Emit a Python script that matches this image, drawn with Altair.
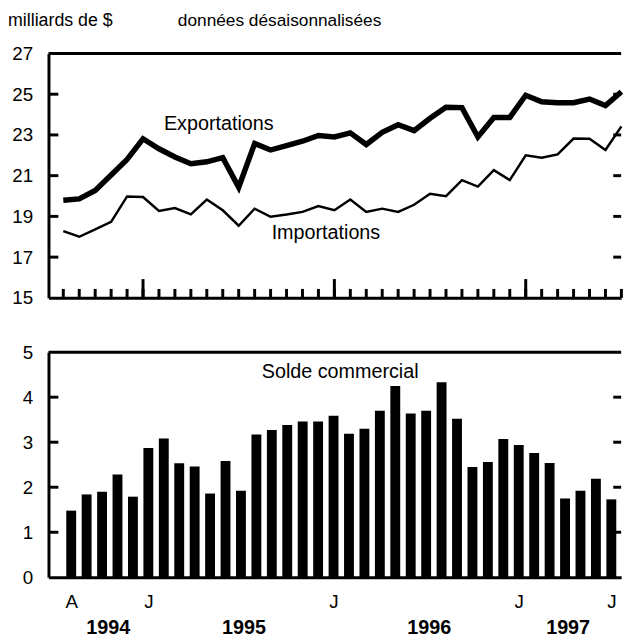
import altair as alt
import pandas as pd

# ---------------- data ----------------
all_months = [f"{y}-{m:02d}" for y in range(1994, 1998) for m in range(1, 13)]
months = all_months[all_months.index("1994-08"):all_months.index("1997-07") + 1]
month_letters = ["J", "F", "M", "A", "M", "J", "J", "A", "S", "O", "N", "D"]

exports = [19.79, 19.86, 20.27, 21.03, 21.80, 22.81, 22.32, 21.92, 21.59, 21.68,
           21.88, 20.43, 22.58, 22.26, 22.48, 22.69, 22.97, 22.90, 23.10, 22.53,
           23.13, 23.50, 23.21, 23.82, 24.36, 24.34, 22.90, 23.86, 23.86, 24.95,
           24.63, 24.58, 24.58, 24.76, 24.44, 25.12]
imports = [18.28, 18.00, 18.36, 18.73, 19.98, 19.95, 19.27, 19.41, 19.10, 19.83,
           19.30, 18.54, 19.38, 18.98, 19.09, 19.22, 19.51, 19.30, 19.83, 19.22,
           19.38, 19.22, 19.57, 20.11, 19.99, 20.78, 20.46, 21.27, 20.78, 22.00,
           21.88, 22.04, 22.82, 22.81, 22.26, 23.42]
balance = [1.48, 1.84, 1.90, 2.28, 1.79, 2.87, 3.08, 2.53, 2.46, 1.86,
           2.58, 1.92, 3.17, 3.27, 3.38, 3.46, 3.46, 3.59, 3.19, 3.30,
           3.70, 4.25, 3.64, 3.70, 4.33, 3.52, 2.45, 2.56, 3.07, 2.94,
           2.76, 2.54, 1.75, 1.92, 2.19, 1.73]

top_y_labels = [15, 17, 19, 21, 23, 25, 27]
bot_y_labels = [0, 1, 2, 3, 4, 5]
x_label_idx = [0, 5, 17, 29, 35]
years = ["1994", "1995", "1996", "1997"]
year_anchor = [2.4, 11.2, 23.2, 32.2]   # month index under which each year label sits

header_left = "milliards de $"
header_mid = "données désaisonnalisées"
label_exp = "Exportations"
label_imp = "Importations"
label_bal = "Solde commercial"

# ---------------- frames ----------------
n = len(months)
df = pd.DataFrame({"i": range(n), "month": months,
                   "Exportations": exports, "Importations": imports, "bal": balance})
major_idx = [k for k, m in enumerate(months) if m.endswith("-01")]
df_ticks_minor = pd.DataFrame({"i": range(n)})
df_ticks_major = pd.DataFrame({"i": major_idx})
df_ytop = pd.DataFrame({"v": top_y_labels[1:-1]})
df_ybot = pd.DataFrame({"v": bot_y_labels[1:-1]})
df_years = pd.DataFrame({"i": year_anchor, "t": years})

lbl_map = {k: month_letters[int(months[k][5:]) - 1] for k in x_label_idx}
label_expr = "''"
for k, t in lbl_map.items():
    label_expr = f"datum.value == {k} ? '{t}' : ({label_expr})"

W = 580
H1, H2 = 247.5, 228
FONT = "Liberation Sans"
one = alt.Data(values=[{}])

# ---------------- top panel ----------------
xs1 = alt.Scale(domain=[-0.929, -0.929 + W / 16.15], nice=False, zero=False, padding=0)
ys1 = alt.Scale(domain=[15, 27], nice=False, zero=False)
ax_x1 = alt.Axis(title=None, labels=False, ticks=False, tickSize=0, domain=True, grid=False)
ax_y1 = alt.Axis(title=None, values=top_y_labels, ticks=False, tickSize=0, labelPadding=16,
                 grid=False, domain=True)

X1 = lambda f: alt.X(f, scale=xs1, axis=ax_x1, title=None)
Y1 = lambda f: alt.Y(f, scale=ys1, axis=ax_y1, title=None)

lines = alt.Chart(df).transform_fold(["Exportations", "Importations"], as_=["serie", "val"]).mark_line(color="black").encode(
    x=X1("i:Q"),
    y=Y1("val:Q"),
    strokeWidth=alt.StrokeWidth("serie:N", scale=alt.Scale(domain=["Exportations", "Importations"], range=[5.5, 2.5]), legend=None),
    detail="serie:N",
)

tmin = alt.Chart(df_ticks_minor).mark_rule(color="black", strokeWidth=3).encode(
    x=X1("i:Q"), y=alt.value(H1), y2=alt.value(H1 - 9))
tmaj = alt.Chart(df_ticks_major).mark_rule(color="black", strokeWidth=3).encode(
    x=X1("i:Q"), y=alt.value(H1), y2=alt.value(H1 - 19))
yl1 = alt.Chart(df_ytop).mark_rule(color="black", strokeWidth=3).encode(
    y=Y1("v:Q"), x=alt.value(0), x2=alt.value(10))
yr1 = alt.Chart(df_ytop).mark_rule(color="black", strokeWidth=3).encode(
    y=Y1("v:Q"), x=alt.value(W - 8), x2=alt.value(W))
top1 = alt.Chart(one).mark_rule(color="black", strokeWidth=3).encode(
    x=alt.value(0), x2=alt.value(W), y=alt.value(0))

txt_exp = alt.Chart(pd.DataFrame({"i": [9.75], "v": [23.24], "t": [label_exp]})).mark_text(
    font=FONT, fontSize=20, align="center", baseline="alphabetic", color="black").encode(
    x=X1("i:Q"), y=Y1("v:Q"), text="t:N")
txt_imp = alt.Chart(pd.DataFrame({"i": [16.47], "v": [17.91], "t": [label_imp]})).mark_text(
    font=FONT, fontSize=20, align="center", baseline="alphabetic", color="black").encode(
    x=X1("i:Q"), y=Y1("v:Q"), text="t:N")

hdr1 = alt.Chart(one).mark_text(text=header_left, font=FONT, fontSize=18, align="left",
                                baseline="alphabetic", color="black").encode(x=alt.value(-41), y=alt.value(-27.5))
hdr2 = alt.Chart(one).mark_text(text=header_mid, font=FONT, fontSize=17.5, align="left",
                                baseline="alphabetic", color="black").encode(x=alt.value(131), y=alt.value(-27.5))

top = alt.layer(lines, tmin, tmaj, yl1, yr1, top1, txt_exp, txt_imp, hdr1, hdr2).properties(width=W, height=H1)

# ---------------- bottom panel ----------------
xs2 = alt.Scale(domain=[-1.472, -1.472 + W / 15.63], nice=False, zero=False, padding=0)
ys2 = alt.Scale(domain=[0, 5], nice=False, zero=False)
ax_x2 = alt.Axis(title=None, values=x_label_idx, labelExpr=label_expr, ticks=False, tickSize=0,
                 labelPadding=16, grid=False, domain=True, labelFontSize=19)
ax_y2 = alt.Axis(title=None, values=bot_y_labels, ticks=False, tickSize=0, labelPadding=16,
                 grid=False, domain=True)
X2 = lambda f: alt.X(f, scale=xs2, axis=ax_x2, title=None)
Y2 = lambda f: alt.Y(f, scale=ys2, axis=ax_y2, title=None)

bars = alt.Chart(df).mark_bar(color="black", size=10).encode(x=X2("i:Q"), y=Y2("bal:Q"))
yl2 = alt.Chart(df_ybot).mark_rule(color="black", strokeWidth=3).encode(
    y=Y2("v:Q"), x=alt.value(0), x2=alt.value(10))
yr2 = alt.Chart(df_ybot).mark_rule(color="black", strokeWidth=3).encode(
    y=Y2("v:Q"), x=alt.value(W - 8), x2=alt.value(W))
top2 = alt.Chart(one).mark_rule(color="black", strokeWidth=3).encode(
    x=alt.value(0), x2=alt.value(W), y=alt.value(0))
txt_bal = alt.Chart(pd.DataFrame({"i": [17.43], "v": [4.43], "t": [label_bal]})).mark_text(
    font=FONT, fontSize=20, align="center", baseline="alphabetic", color="black").encode(
    x=X2("i:Q"), y=Y2("v:Q"), text="t:N")
yrs = alt.Chart(df_years).mark_text(font=FONT, fontSize=20, fontWeight="bold", align="center",
                                    baseline="alphabetic", color="black").encode(
    x=X2("i:Q"), y=alt.value(285), text="t:N")

bottom = alt.layer(bars, yl2, yr2, top2, txt_bal, yrs).properties(width=W, height=H2)

chart = alt.vconcat(top, bottom, spacing=54.5, bounds="flush").properties(
    padding=0, background="white").configure_view(strokeWidth=0).configure_axis(
    labelFont=FONT, labelFontSize=19, labelColor="black", domainColor="black", domainWidth=3, grid=False)

chart.save("out.html", embed_options={"renderer": "svg", "actions": False})
